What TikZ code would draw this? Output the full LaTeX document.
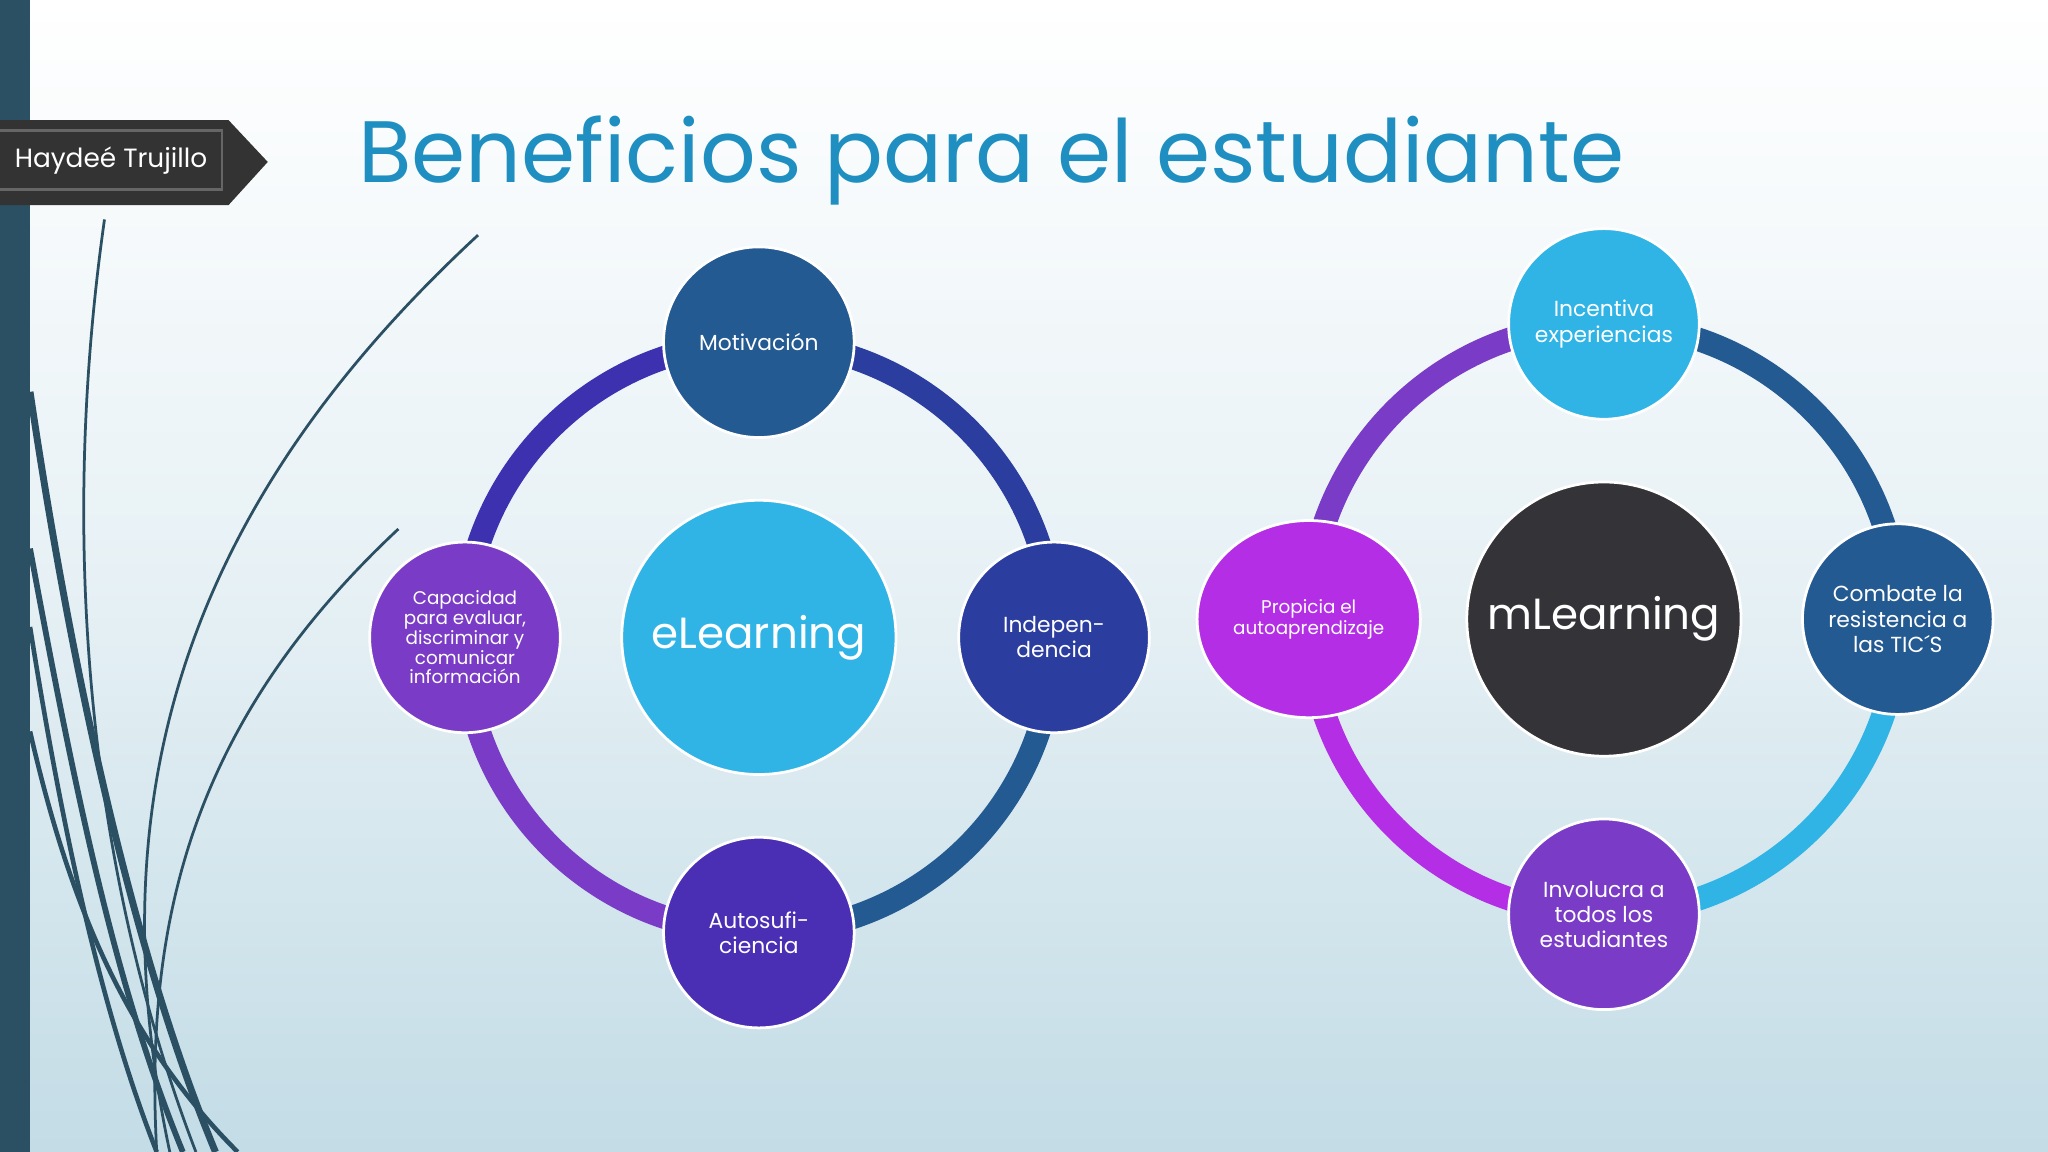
\documentclass[tikz,border=0pt]{standalone}
\usepackage{fontspec}
\setmainfont{Poppins}
\usetikzlibrary{shapes.geometric}
\definecolor{bgb}{HTML}{C3DCE6}
\definecolor{teal}{HTML}{2B4F63}
\definecolor{ttl}{HTML}{1E8FC0}
\definecolor{cA}{HTML}{245A92}
\definecolor{cB}{HTML}{2B3D9E}
\definecolor{cC}{HTML}{4A2FB4}
\definecolor{cD}{HTML}{7A3CC6}
\definecolor{cE}{HTML}{30B4E6}
\definecolor{cF}{HTML}{B42EE6}
\definecolor{cG}{HTML}{333338}
\definecolor{cH}{HTML}{3D31B0}
\tikzset{
 sat/.style={circle,draw=white,line width=1.2pt,minimum size=2.92cm,inner sep=0pt,text=white,align=center,font=\fontsize{9.5}{11}\selectfont},
 hub/.style={circle,draw=white,line width=1.2pt,minimum size=4.2cm,inner sep=0pt,text=white,font=\fontsize{19}{22}\selectfont},
 ring/.style={line width=0.36cm}
}
\begin{document}
\begin{tikzpicture}[x=0.02cm,y=-0.02cm]
\useasboundingbox (0,0) rectangle (1568,882);
\shade[top color=white,bottom color=bgb,middle color=white!60!bgb] (0,0) rectangle (1568,882);
\fill[teal] (0,0) rectangle (23,882);
% curves
\begin{scope}[teal,line width=1.2pt]
\draw (80,168) .. controls (40,450) and (80,700) .. (150,882);
\draw (366,180) .. controls (150,380) and (70,600) .. (130,882);
\draw (305,405) .. controls (150,550) and (110,700) .. (120,882);
\draw[line width=3pt] (23,300) .. controls (60,550) and (110,750) .. (165,882);
\draw[line width=2.5pt] (23,420) .. controls (60,620) and (90,760) .. (140,882);
\draw[line width=2pt] (23,480) .. controls (50,650) and (80,780) .. (120,882);
\draw[line width=2pt] (23,560) .. controls (55,700) and (100,800) .. (182,882);
\end{scope}
% name tag
\fill[black!80] (0,92) -- (175,92) -- (205,124) -- (175,157) -- (0,157) -- cycle;
\draw[black!60,line width=1pt] (0,100) -- (170,100) -- (170,145) -- (0,145);
\node[text=white,font=\fontsize{11.5}{13}\selectfont] (tag) at (85,123) {Haydeé Trujillo};
\node[text=ttl,font=\fontsize{38}{44}\selectfont] (title) at (759,123) {Beneficios para el estudiante};
% left diagram
\coordinate (L) at (581,488);
\draw[ring,cD] (L) ++(180:226) arc[start angle=180,end angle=90,radius=226];
\draw[ring,cA] (L) ++(90:226) arc[start angle=90,end angle=0,radius=226];
\draw[ring,cB] (L) ++(0:226) arc[start angle=0,end angle=-90,radius=226];
\draw[ring,cH] (L) ++(-90:226) arc[start angle=-90,end angle=-180,radius=226];
\node[hub,fill=cE] (el) at (L) {eLearning};
\node[sat,fill=cA] (mot) at (581,262) {Motivación};
\node[sat,fill=cB] (ind) at (807,488) {Indepen-\\dencia};
\node[sat,fill=cC] (aut) at (581,714) {Autosufi-\\ciencia};
\node[sat,fill=cD,font=\fontsize{8}{8.6}\selectfont] (cap) at (356,488) {Capacidad\\para evaluar,\\discriminar y\\comunicar\\información};
% right diagram
\coordinate (R) at (1228,474);
\draw[ring,cF] (R) ++(180:226) arc[start angle=180,end angle=90,radius=226];
\draw[ring,cE] (R) ++(90:226) arc[start angle=90,end angle=0,radius=226];
\draw[ring,cA] (R) ++(0:226) arc[start angle=0,end angle=-90,radius=226];
\draw[ring,cD] (R) ++(-90:226) arc[start angle=-90,end angle=-180,radius=226];
\node[hub,fill=cG] (ml) at (R) {mLearning};
\node[sat,fill=cE] (inc) at (1228,248) {Incentiva\\experiencias};
\node[sat,fill=cA] (com) at (1453,474) {Combate la\\resistencia a\\las TIC´S};
\node[sat,fill=cD] (inv) at (1228,700) {Involucra a\\todos los\\estudiantes};
\node[ellipse,draw=white,line width=1.2pt,fill=cF,minimum width=3.42cm,minimum height=3.02cm,inner sep=0pt,text=white,align=center,font=\fontsize{8}{9}\selectfont] (pro) at (1002,474) {Propicia el\\autoaprendizaje};
\end{tikzpicture}
\end{document}
